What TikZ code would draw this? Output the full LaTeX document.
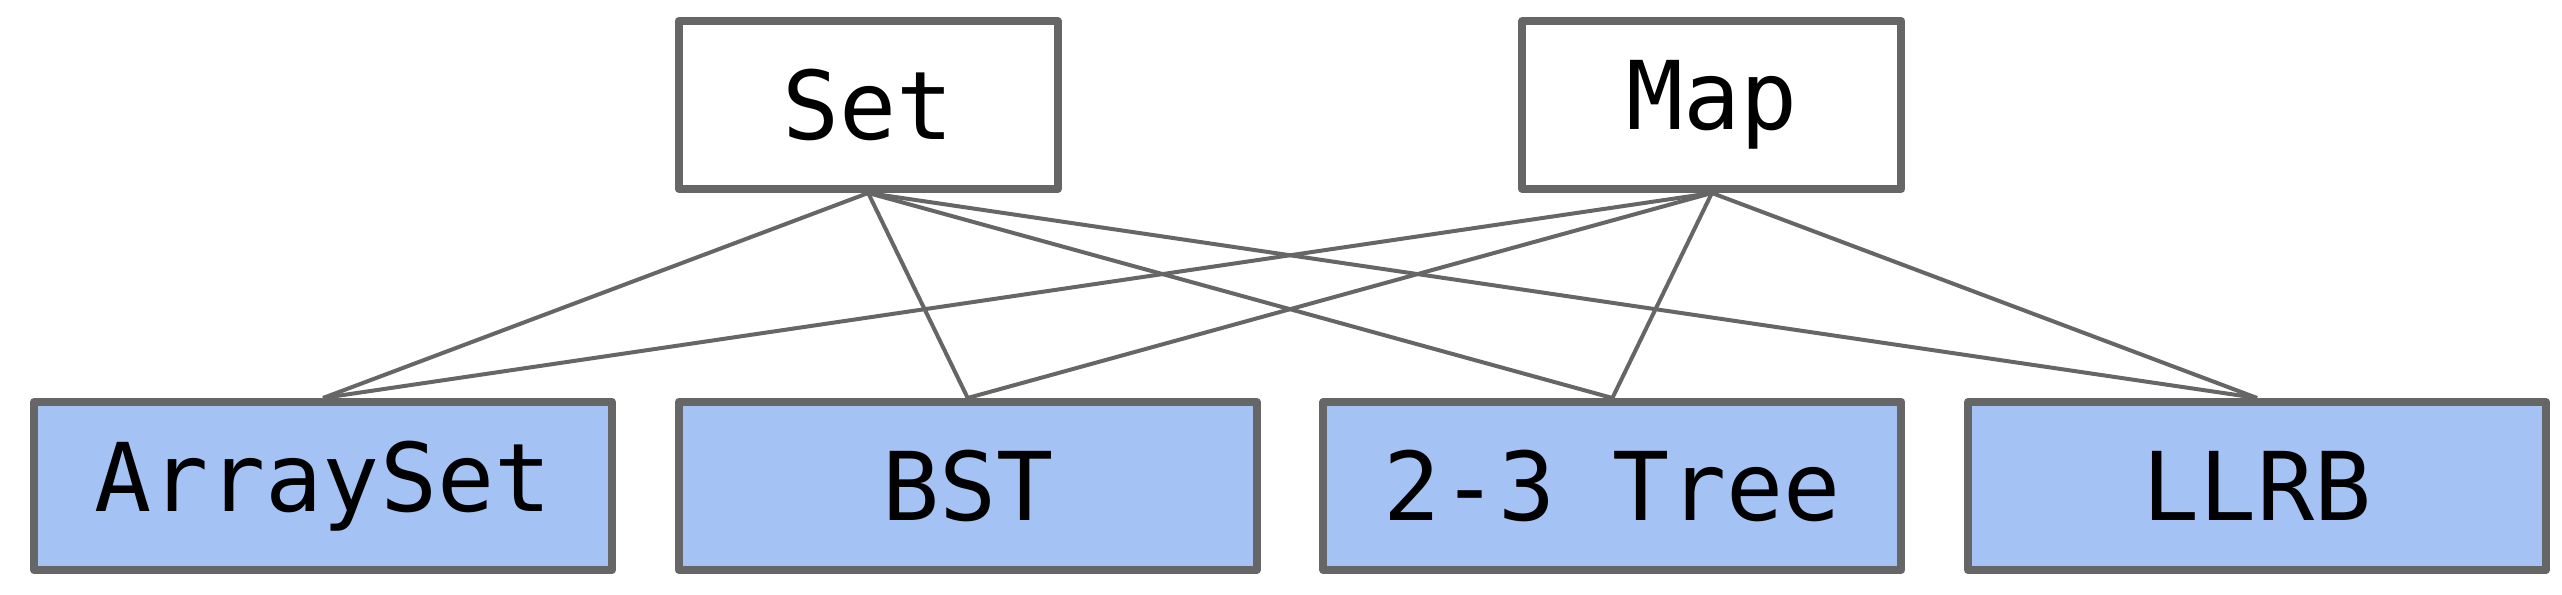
\documentclass[tikz,border=0pt]{standalone}
\usepackage{fontspec}
\setmonofont{DejaVu Sans Mono}
\usepackage{xcolor}
\usetikzlibrary{positioning}
\definecolor{boxgray}{HTML}{666666}
\definecolor{implblue}{HTML}{A4C2F4}
\tikzset{font={\ttfamily\fontsize{27pt}{32}\selectfont}}

\begin{document}
\begin{tikzpicture}[node distance=0.587cm,
                    base node/.style={rectangle,draw=boxgray,line width=0.08cm,line join=round,text=black},
                    top node/.style={base node,fill=white,minimum width=3.79cm,minimum height=1.68cm},
                    impl node/.style={base node,fill=implblue,minimum width=5.78cm,minimum height=1.68cm},
                    link/.style={draw=boxgray,line width=0.04cm}]
  \useasboundingbox (0,0) rectangle (25.62,5.94);

  \node[impl node] (arrayset) at (3.23,1.08) {ArraySet};
  \node[impl node] (bst)  [right=of arrayset] {BST};
  \node[impl node] (tree) [right=of bst] {2-3 Tree};
  \node[impl node] (llrb) [right=of tree] {LLRB};

  \node[top node,anchor=south west] (set) at ([yshift=2.05cm]bst.north west) {Set};
  \node[top node,anchor=south east] (map) at ([yshift=2.05cm]tree.north east) {Map};

  \path[link]
    (set.south) edge (arrayset.north)
                edge (bst.north)
                edge (tree.north)
                edge (llrb.north)
    (map.south) edge (arrayset.north)
                edge (bst.north)
                edge (tree.north)
                edge (llrb.north);
\end{tikzpicture}
\end{document}
